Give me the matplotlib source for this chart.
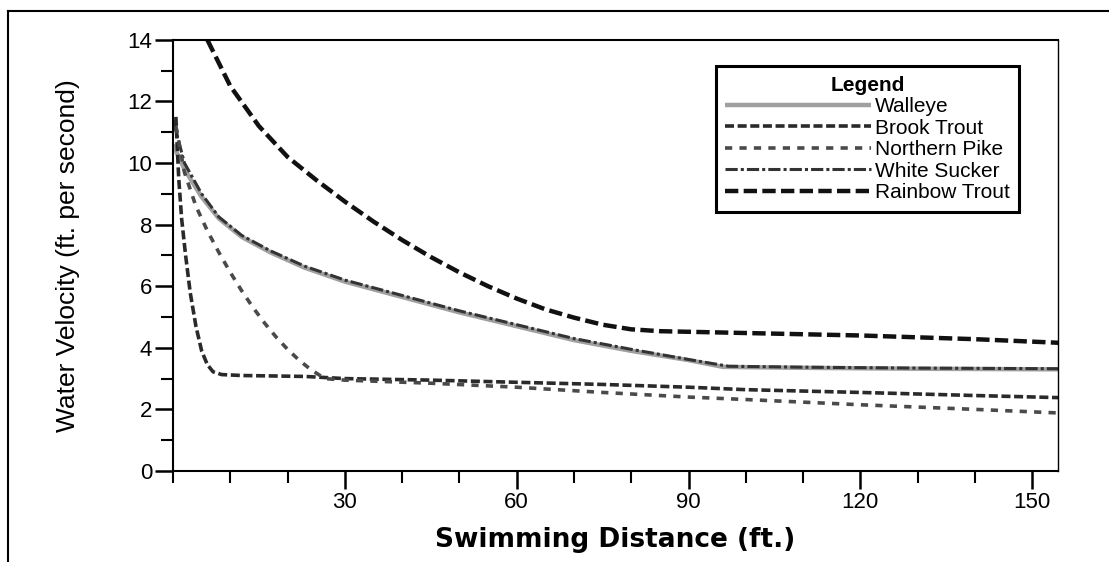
import matplotlib
matplotlib.use("Agg")
import matplotlib.pyplot as plt
from matplotlib.ticker import MultipleLocator
from matplotlib.lines import Line2D

plt.rcParams['font.family'] = ['Liberation Sans', 'DejaVu Sans']

# swimming distance (ft.) vs water velocity (ft. per second)
walleye_x = [0, 2, 5, 8, 12, 17, 23, 30, 40, 50, 60, 70, 80, 90, 96, 110, 130, 155]
walleye_y = [10.6, 9.8, 8.9, 8.2, 7.6, 7.1, 6.6, 6.15, 5.65, 5.15, 4.7, 4.25, 3.9, 3.6, 3.38, 3.35, 3.32, 3.3]

brook_x = [0.5, 1, 1.5, 2.2, 3, 4, 5, 6, 7, 8.5, 12, 23, 30, 45, 60, 75, 90, 100, 120, 140, 155]
brook_y = [11.5, 9.5, 8.2, 7.0, 5.8, 4.7, 3.9, 3.45, 3.22, 3.13, 3.1, 3.07, 3.0, 2.95, 2.88, 2.81, 2.72, 2.64, 2.55, 2.45, 2.38]

pike_x = [0.5, 2, 4, 6, 8, 10, 12, 14, 16, 18, 20, 22, 24, 26.5, 30, 45, 60, 75, 90, 100, 120, 140, 155]
pike_y = [11.2, 9.7, 8.6, 7.8, 7.1, 6.45, 5.85, 5.3, 4.8, 4.35, 3.95, 3.6, 3.3, 3.0, 2.95, 2.85, 2.72, 2.55, 2.4, 2.32, 2.15, 2.0, 1.88]

sucker_x = [0, 2, 5, 8, 12, 17, 23, 30, 40, 50, 60, 70, 80, 90, 97, 110, 130, 155]
sucker_y = [11.4, 10.0, 9.0, 8.25, 7.65, 7.15, 6.65, 6.2, 5.7, 5.2, 4.75, 4.3, 3.95, 3.62, 3.4, 3.37, 3.34, 3.32]

rainbow_x = [6, 10, 15, 20, 25, 30, 35, 40, 45, 50, 55, 60, 65, 70, 75, 80, 85, 100, 120, 140, 155]
rainbow_y = [14.0, 12.5, 11.2, 10.2, 9.45, 8.75, 8.1, 7.5, 6.95, 6.45, 6.0, 5.6, 5.25, 4.98, 4.75, 4.6, 4.54, 4.48, 4.4, 4.28, 4.16]

fig = plt.figure(figsize=(11.09, 5.62), dpi=100)
ax = fig.add_axes([0.156, 0.162, 0.798, 0.767])

ax.plot(walleye_x, walleye_y, color="#a0a0a0", lw=3.2, solid_capstyle="butt", label="Walleye")
ax.plot(sucker_x, sucker_y, color="#333333", lw=2.2, dashes=(4, 1, 1, 1), label="White Sucker")
ax.plot(brook_x, brook_y, color="#2a2a2a", lw=2.6, dashes=(2.5, 1), label="Brook Trout")
ax.plot(pike_x, pike_y, color="#4a4a4a", lw=2.6, dashes=(2, 2), label="Northern Pike")
ax.plot(rainbow_x, rainbow_y, color="#111111", lw=3.2, dashes=(3, 1.2), label="Rainbow Trout")

ax.set_xlim(0, 154.5)
ax.set_ylim(0, 14)
ax.xaxis.set_major_locator(MultipleLocator(30))
ax.xaxis.set_minor_locator(MultipleLocator(10))
ax.yaxis.set_major_locator(MultipleLocator(2))
ax.yaxis.set_minor_locator(MultipleLocator(1))
ax.set_xticks([30, 60, 90, 120, 150])
ax.tick_params(which="major", direction="out", length=13, width=1.8, labelsize=16, pad=2)
ax.tick_params(which="minor", direction="out", length=8.5, width=1.5)
for s in ax.spines.values():
    s.set_linewidth(1.5)
ax.spines["right"].set_linewidth(1.0)

ax.set_xlabel("Swimming Distance (ft.)", fontsize=19, fontweight="bold", labelpad=10,
              family=["DejaVu Sans"])
ax.set_ylabel("Water Velocity (ft. per second)", fontsize=19, labelpad=34,
              family=["Liberation Sans Narrow", "Liberation Sans"])

order = ["Walleye", "Brook Trout", "Northern Pike", "White Sucker", "Rainbow Trout"]
handles, labels = ax.get_legend_handles_labels()
lookup = dict(zip(labels, handles))
leg = ax.legend([lookup[k] for k in order], order, title="Legend", loc="upper right",
                bbox_to_anchor=(0.968, 0.963), fontsize=15, title_fontsize=15,
                handlelength=7.0, handletextpad=0.2, labelspacing=0.12,
                borderpad=0.45, fancybox=False, edgecolor="black", framealpha=1)
leg.get_title().set_fontweight("bold")
leg.get_frame().set_linewidth(2.2)

# outer frame lines of the scanned page
fig.add_artist(Line2D([0.007, 0.007], [0, 0.98], color="black", lw=1.5, transform=fig.transFigure))
fig.add_artist(Line2D([0.007, 1.0], [0.98, 0.98], color="black", lw=1.5, transform=fig.transFigure))

fig.savefig("out.png", dpi=100)
